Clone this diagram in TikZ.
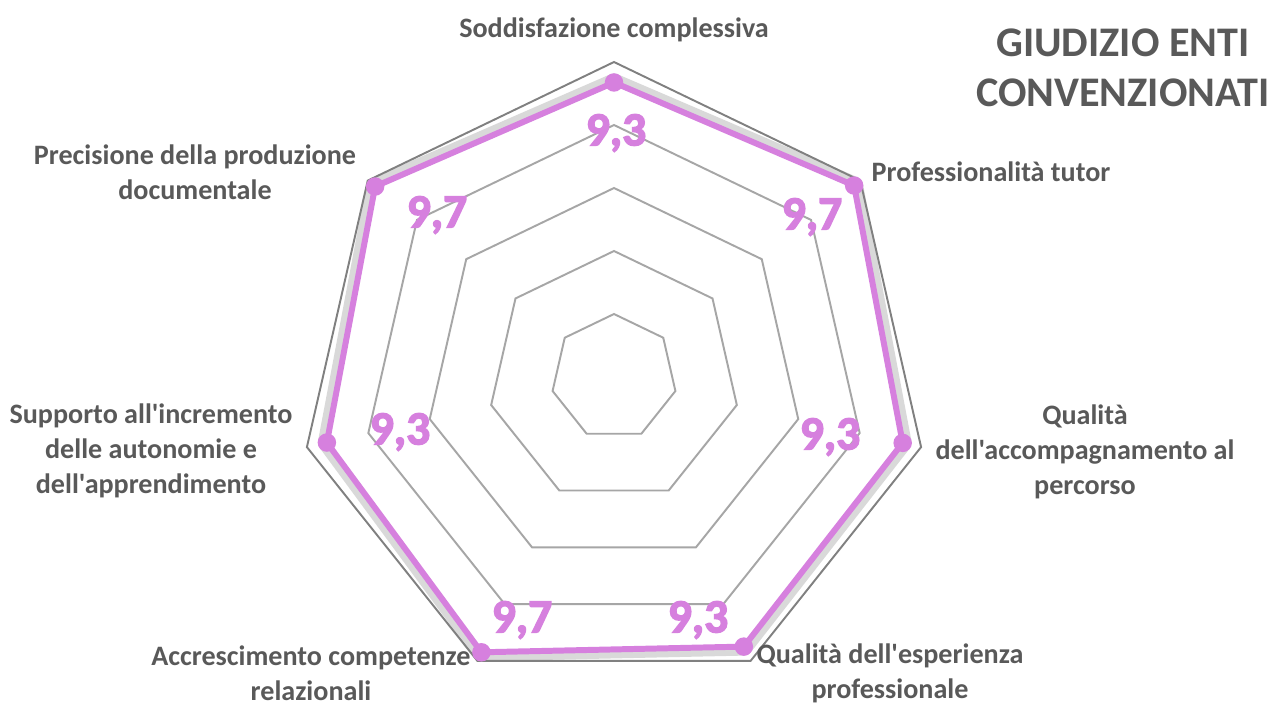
\documentclass[tikz,border=0pt]{standalone}
\usepackage{fontspec}
\setmainfont{Carlito}[Ligatures=TeXOff]
\newfontfamily\heavyfont{Carlito}[Ligatures=TeXOff, BoldFeatures={FakeBold=3}]
\definecolor{orchidline}{RGB}{214,128,222}
\definecolor{labelgray}{RGB}{89,89,89}
\definecolor{ringgray}{RGB}{166,166,166}
\begin{document}
\begin{tikzpicture}[
    ring/.style={draw=ringgray, line width=1.1pt},
    series/.style={draw=orchidline, line width=3.4pt, line join=round},
    dot/.style={circle, fill=orchidline, inner sep=0pt, minimum size=0.37cm},
    axislabel/.style={text=labelgray, font=\bfseries\fontsize{16}{20}\selectfont, align=center, inner sep=0pt},
    valuelabel/.style={text=orchidline, font=\heavyfont\bfseries\fontsize{27}{27}\selectfont},
  ]
    \useasboundingbox (-12.28, -6.54) rectangle (13.16, 7.54);
    % data points
    \foreach \v [count=\k from 0] in {9.35, 9.75, 9.4, 9.5, 9.7, 9.35, 9.7}
      \coordinate (p\k) at ({90 - \k*360/7}:{\v*0.63});
    \draw [gray!30, line width=0.36cm, line join=round] (p0) -- (p1) -- (p2) -- (p3) -- (p4) -- (p5) -- (p6) -- cycle;
    \fill [white] (p0) -- (p1) -- (p2) -- (p3) -- (p4) -- (p5) -- (p6) -- cycle;
    % rings
    \foreach \r in {2, 4, 6, 8}
      \draw [ring] (90:{\r*0.63}) \foreach \k in {1, ..., 6} { -- ({90 - \k*360/7}:{\r*0.63}) } -- cycle;
    \draw [ring, draw=gray] (90:6.3) \foreach \k in {1, ..., 6} { -- ({90 - \k*360/7}:6.3) } -- cycle;
    \draw [series] (p0) -- (p1) -- (p2) -- (p3) -- (p4) -- (p5) -- (p6) -- cycle;
    \foreach \k in {0, ..., 6}
      \node [dot] (d\k) at (p\k) {};
    % values
    \node [valuelabel] (v0) at (0.04, 4.88) {9,3};
    \node [valuelabel] (v1) at (3.96, 3.2) {9,7};
    \node [valuelabel] (v2) at (4.32, -1.2) {9,3};
    \node [valuelabel] (v3) at (1.68, -4.86) {9,3};
    \node [valuelabel] (v4) at (-1.84, -4.86) {9,7};
    \node [valuelabel] (v5) at (-4.28, -1.1) {9,3};
    \node [valuelabel] (v6) at (-3.54, 3.24) {9,7};
    % axes
    \node [axislabel] (a0) at (0, 6.94) {Soddisfazione complessiva};
    \node [axislabel] (a1) at (7.54, 4.1) {Professionalità tutor};
    \node [axislabel] (a2) at (9.42, -1.5) {Qualità\\dell'accompagnamento al\\percorso};
    \node [axislabel] (a3) at (5.52, -5.92) {Qualità dell'esperienza\\professionale};
    \node [axislabel] (a4) at (-6.06, -5.92) {Accrescimento competenze\\relazionali};
    \node [axislabel] (a5) at (-9.26, -1.48) {Supporto all'incremento\\delle autonomie e\\dell'apprendimento};
    \node [axislabel] (a6) at (-8.38, 4.1) {Precisione della produzione\\documentale};
    \node [text=labelgray, font=\bfseries\fontsize{24}{28.5}\selectfont, align=center] (title) at (10.18, 6.18) {GIUDIZIO ENTI\\CONVENZIONATI};
  \end{tikzpicture}
\end{document}
